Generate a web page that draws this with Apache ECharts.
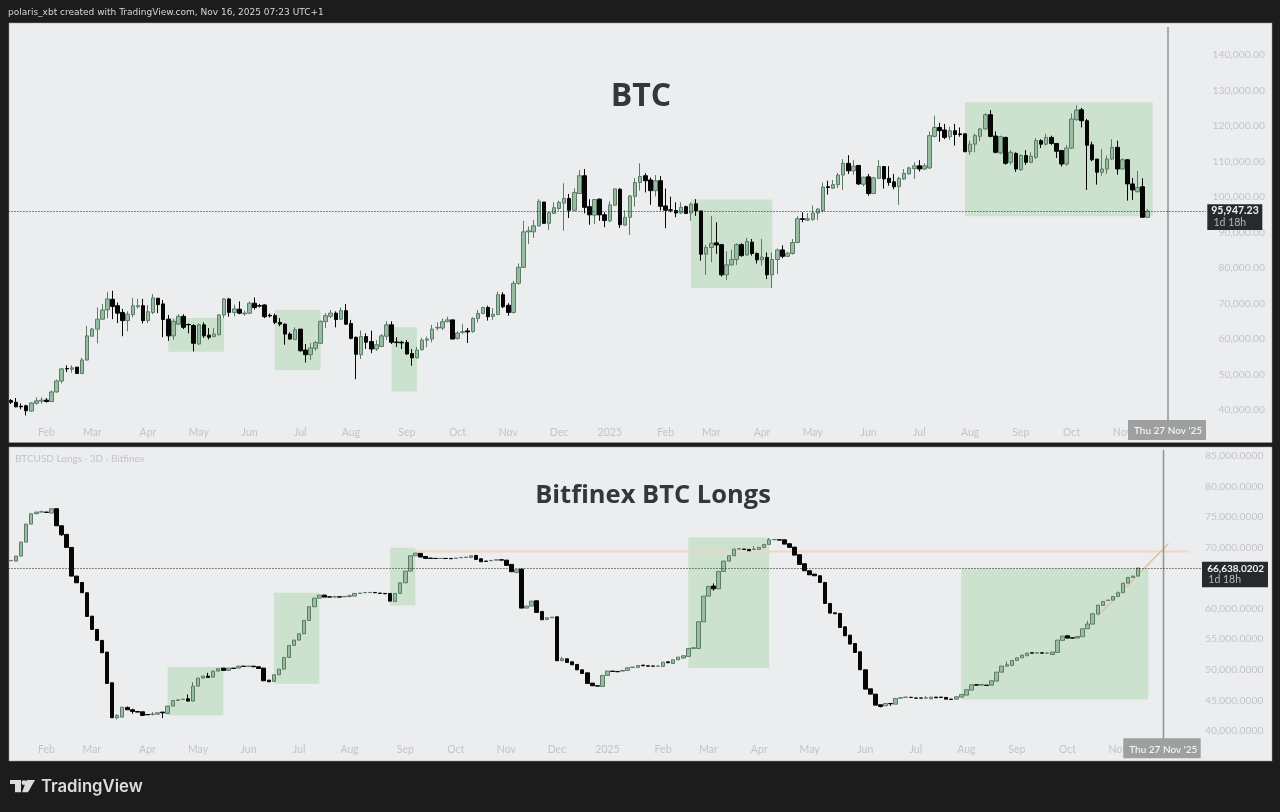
<!DOCTYPE html>
<html><head><meta charset="utf-8"><title>BTC vs Bitfinex BTC Longs</title>
<style>html,body{margin:0;padding:0;background:#1c1c1c}#c{width:1280px;height:812px}</style>
<script src="https://cdn.jsdelivr.net/npm/echarts@6/dist/echarts.min.js"></script></head>
<body><div id="c"></div>
<script>
// ---------- tick labels ----------
const monthTickIndex=[7,16,27,37,47,57,67,78,88,98,108,118,129,138,148,158,169,179,189,199,209,219];
const monthTickLabels=['Feb','Mar','Apr','May','Jun','Jul','Aug','Sep','Oct','Nov','Dec','2025','Feb','Mar','Apr','May','Jun','Jul','Aug','Sep','Oct','Nov'];
// ---------- BTC, 3-day candles ----------
const btcOpen=[42600,42100,41000,41100,39600,41800,42400,42700,42300,45000,
48100,51600,51400,52000,50200,54000,60700,62700,65500,68100,
71100,69300,67400,65100,66800,69000,69300,65100,67400,71400,
69800,65500,60800,64100,66300,64000,63700,58500,63900,61000,
60600,61100,66700,71200,67400,68300,67000,67200,70000,69300,
69500,66600,66500,64600,64100,61300,59800,62700,56800,55500,
57300,58700,64800,66300,67200,65500,67900,64300,60400,55500,
60600,59200,57100,57800,60700,63900,59100,59000,58900,55800,
54600,56900,59600,59900,63000,63000,64800,65300,60100,61800,
62200,62000,65700,67100,68800,66300,66800,72400,69400,67400,
75600,80100,90100,90100,91800,98500,92500,95300,96700,98200,
99500,96200,100900,105900,97200,94800,99300,94900,93200,97600,
102100,92000,94200,100100,104000,105900,104700,101700,104500,97400,
96300,96100,95400,97200,95400,98000,96000,83800,85700,87000,
86500,78000,80800,82300,86500,83600,87200,84000,82200,82900,
78000,82300,85000,83200,84000,87100,93800,93400,93600,95400,
96100,102800,102400,103400,106100,109400,107300,108800,103500,105600,
100900,105200,108500,105200,104200,102800,105000,106400,107900,108700,
107800,108100,117000,119500,118800,116900,118600,117700,117700,112700,
114800,117000,119100,123100,117100,112300,116700,109700,112200,107600,
111600,109700,111100,115800,114800,116700,115000,113000,109200,113700,
121700,124500,121400,114600,110600,106900,107800,110600,113900,107800,
110400,103600,101400,102800,94200];
const btcClose=[42100,40800,40800,39700,41900,42500,42700,42300,45000,48100,
51500,51500,51800,50200,54000,60800,62700,65500,68100,71200,
69100,67200,65100,66900,69300,69300,65100,67600,71500,69600,
65400,60800,64900,66300,63200,63900,58700,63900,60800,60400,
61300,66700,71200,67400,68400,67200,67200,70000,68800,69200,
66200,66400,64600,64100,61300,59900,62500,56600,55500,57400,
58900,64900,66500,67200,65400,67900,64100,60100,55600,60600,
59000,57100,58300,60800,63900,59000,58900,58800,55700,54600,
56800,59600,59900,62700,63200,64800,65300,59900,61600,62000,
61900,65700,67100,68800,66200,66900,72400,69000,67400,75600,
80100,90100,90400,91800,98700,92500,95500,96900,98400,99500,
96200,101200,105900,97000,94900,99200,94900,93300,97700,102200,
92100,94200,100200,104000,105700,104500,101700,104500,97300,96200,
96200,95400,97000,95300,97900,96000,83800,85700,86900,86400,
78000,80800,82300,86500,83400,87400,84000,82200,83000,78000,
82300,85000,83200,84100,87100,93800,93600,93800,95400,96500,
102700,102600,103400,106100,109400,107300,108600,103600,105500,100900,
105300,108500,105000,104000,102800,105200,106600,108100,108700,107800,
108700,117200,119500,118600,116700,118600,117500,117500,112700,114800,
117200,119100,123100,117000,112500,116900,109400,112500,107800,111600,
109700,111400,115800,114800,116700,115000,112800,109200,113700,121900,
124400,121400,114500,110400,106900,107800,110600,113900,107800,110400,
103600,101900,102600,94200,95947];
const btcLow=[41600,40700,40100,38400,39400,41400,41700,42000,42200,44800,
47400,50600,50400,50200,50000,53800,60600,58700,65400,65800,
65500,64400,60700,62100,66000,68500,64300,64400,66900,67200,
60400,59400,59600,63900,62700,61500,56400,58300,60200,59800,
60400,61000,65800,66200,66300,66900,66500,66900,68200,68800,
65800,66000,64100,63500,58300,59700,59600,56400,53300,54000,
56600,58500,63000,65800,63200,65300,63900,59800,48600,54300,
57100,55900,56600,57600,59600,58500,57700,57100,55500,52400,
54400,56700,57600,59000,62300,62400,64600,59900,59700,61300,
58800,61700,64600,66900,65100,65300,66700,68600,66500,67100,
75200,79900,86700,88400,91600,92300,90600,95100,96100,90400,
94000,95900,100800,95300,92100,92300,93200,91400,92800,97400,
91200,91800,89200,97200,101700,101200,97700,100100,96100,91100,
95600,94200,95100,95100,93200,94600,82000,78000,81500,83900,
77500,76500,80600,80800,83100,83400,83400,81200,80600,76800,
74300,78200,82700,83000,83700,86900,92800,93100,93200,93400,
95600,100600,102200,102400,101900,106400,106200,103300,102900,100300,
100800,105000,102300,103100,102100,97700,104700,106200,105000,107100,
107500,107800,116700,115500,116200,116000,114400,116900,112500,111800,
112500,115600,118800,116700,112200,112000,109000,109000,107000,107300,
109000,109400,110600,113700,114400,114600,110900,108500,108700,113400,
121400,119500,101900,110000,103400,105900,106400,110300,106200,107600,
98900,99100,101200,94000,94000];
const btcHigh=[43000,43300,41800,41400,42100,43500,43500,43300,45400,48500,
51700,52500,52500,52000,54600,63600,63000,68800,69800,73200,
73500,70200,68400,67700,71500,71200,71200,69500,72600,71400,
70900,66700,65500,66900,66900,64300,64100,64300,64600,63000,
63000,66900,71400,71500,69600,70500,67900,70500,71600,69800,
69700,67100,67100,65800,64300,61800,63200,62700,58500,58800,
59400,65100,67200,68100,67700,68800,69800,65300,60600,62300,
61500,62300,59600,61300,64900,64900,60400,59400,59600,57100,
57700,60200,60600,63900,64600,65700,66200,65300,62100,64100,
63000,66000,68100,69000,69300,68600,73300,73100,70000,76300,
81200,93200,91600,93400,99300,98500,95800,98400,98900,103800,
100800,102400,107500,107800,99300,99300,99500,95600,98700,102300,
102400,96200,100500,105300,109400,106600,105400,106100,105800,102300,
100000,98400,98400,97500,98400,99300,96000,86400,94600,92800,
86700,84600,85100,86900,86900,88400,88100,84300,88100,84300,
84300,85400,86300,84500,88100,94500,95600,95400,97500,96800,
104000,104500,104700,106700,110600,111700,110300,108800,105600,106400,
105600,110300,108500,108600,106400,105600,107800,108500,109700,110300,
109400,118400,122800,120800,120500,119700,120500,119500,117900,115800,
117800,119300,123500,124400,118400,117200,116900,113100,112500,112000,
113100,112500,116500,116200,117700,117200,115100,113100,114600,123500,
125800,125000,121900,115500,110600,113400,111600,116200,115800,110900,
110600,105300,107300,105200,96500];
// ---------- Bitfinex BTC longs, 3-day candles ----------
const longsOpen=[67830,67770,68590,70880,73830,75520,75790,75790,75630,76340,
73550,72140,70010,65320,64270,62590,58760,56590,54790,52880,
47860,42130,42240,43820,43440,43160,43110,42670,42670,42730,
43060,42840,44040,44960,45130,45240,44860,47310,48620,48950,
48780,49770,50260,49880,50260,50260,50580,50550,50580,50480,
50260,48290,48080,49170,50090,52000,53970,54840,55880,58060,
60300,61710,62210,61930,61900,61930,61930,61990,62040,62480,
62590,62620,62640,62530,62480,62480,61170,62480,64220,66130,
68640,69030,68530,68260,68210,68190,68210,68210,68210,68320,
68370,68370,68700,68150,67770,67830,67930,67990,67930,67230,
65920,66460,60080,60410,61280,59530,58220,58500,58660,51460,
51780,51290,50860,49980,49490,47800,47370,47260,49060,49770,
49710,49770,49880,50370,50370,50750,50640,50600,50580,50530,
51290,51020,51620,51890,52170,53480,53480,57840,62040,63680,
63240,66080,67770,68640,69740,69740,69680,69680,69680,70010,
70500,71260,71260,71260,70610,70060,68810,67340,66190,65640,
65370,64280,60840,59310,59200,57020,55660,54290,52930,49980,
46870,46000,44260,44090,44470,44360,45350,45460,45480,45370,
45370,45350,45240,45510,45510,45460,45180,45180,45510,45840,
46660,47530,47470,47470,47470,48130,49600,50580,50690,51510,
51950,52280,52770,52710,52770,52710,52490,52820,54790,55550,
55220,55170,55390,56700,57460,59100,60520,61330,61390,61990,
62590,64170,65100,65320];
const longsClose=[67880,68590,70880,73830,75520,75790,75850,75740,76340,73550,
72080,70010,65320,64220,62590,58710,56590,54790,52770,47750,
42130,42510,43870,43440,43160,43060,42510,42620,42730,42950,
42950,44040,44960,45070,45180,44860,47310,48620,48950,48730,
49770,50150,49880,50260,50200,50580,50530,50580,50480,50200,
48180,48020,49170,50090,52000,53970,54840,55880,58060,60300,
61710,62210,61880,61880,61930,61880,61990,62100,62480,62530,
62640,62640,62590,62480,62420,61220,62480,64220,66130,68640,
69080,68430,68210,68210,68190,68210,68190,68150,68260,68370,
68430,68640,68040,67660,67720,67880,67990,67930,67060,66030,
66350,60080,60410,61220,59370,58170,58500,58600,51460,51780,
51180,50800,49980,49380,47750,47370,47310,49060,49770,49710,
49660,49880,50310,50420,50690,50640,50580,50580,50600,51240,
51130,51620,52060,52280,53480,53590,57840,62040,63620,63240,
66080,67770,68640,69740,69790,69680,69460,69740,70010,70500,
71260,71320,71210,70550,70010,68750,67230,66190,65530,65370,
64280,60840,59260,59150,56910,55550,54190,52820,49980,46820,
46000,44200,43980,44470,44420,45290,45400,45510,45460,45350,
45350,45400,45510,45400,45460,45180,45130,45570,45950,46710,
47530,47470,47580,47420,48180,49600,50580,50800,51510,51950,
52390,52710,52710,52770,52710,52730,52880,54840,55500,55170,
55170,55440,56700,57460,59150,60570,61170,61390,61990,62590,
64170,65100,65320,66638];
// the few visible wicks of the longs candles: [candle number, value]
const longsUpperWicks=[[6,76010],[21,42730],[23,43980],[24,43600],[28,43060],[35,45950],[36,47970],[39,49490],[64,62100],[67,62310],[109,52110],[139,64120],[147,70230],[150,71540],[181,45670],[197,51350],[213,58000],[219,62810]];
const longsLowerWicks=[[10,71860],[21,41860],[24,42780],[28,42510],[30,42070],[67,61820],[100,65750],[139,62920],[172,43820],[174,44090]];
// ---------- drawn annotations: candle numbers and prices ----------
const btcBoxes=[[31.2,42,65800,56300],[52.2,60.9,68100,51200],[75.2,79.9,63200,45100],[134.2,150.1,99200,74300],[188.3,224.9,126600,94500]];
const longsBoxes=[[31.1,41.9,50420,42510],[52.1,61.1,62590,47690],[75.2,80.05,69950,60510],[134.1,149.95,71640,50260],[188.3,224.9,66570,45130]];
const btcLast=95947.23, longsLast=66638.0202;
const resistanceLine=[[79.5,69350],[233,69350]];
const trendLine=[[215,58800],[228.9,70650]];
const cursorIndex=228;

const FONT='Lato';
const LABEL='#c2c4c6';
function fmt(v,d){return v.toLocaleString('en-US',{minimumFractionDigits:d,maximumFractionDigits:d});}
function dates(n){const out=[];const t0=Date.UTC(2024,0,13);for(let i=0;i<n;i++)out.push(new Date(t0+i*3*864e5).toISOString().slice(0,10));return out;}
const topCats=dates(236), botCats=dates(237);
const labelByDate={};monthTickIndex.forEach((ix,k)=>{labelByDate[topCats[ix]]=monthTickLabels[k];});

function xAxis(gridIndex,cats,margin){return {type:'category',gridIndex,data:cats,boundaryGap:true,axisLine:{show:false},axisTick:{show:false},splitLine:{show:false},
  axisLabel:{inside:true,margin,color:LABEL,fontFamily:FONT,fontSize:10.5,hideOverlap:false,
    interval:(i)=>monthTickIndex.includes(i),formatter:(v)=>labelByDate[v]||''}};}
function yAxis(gridIndex,min,max,interval,dec,margin){return {type:'value',gridIndex,position:'right',min,max,interval,scale:true,axisLine:{show:false},axisTick:{show:false},splitLine:{show:false},
  axisLabel:{showMinLabel:false,showMaxLabel:false,color:LABEL,fontFamily:FONT,fontSize:10.3,align:'right',margin,formatter:(v)=>fmt(v,dec)}};}
const candleStyle={color:'#96bca2',color0:'#060606',borderColor:'#5c7b67',borderColor0:'#060606',borderColorDoji:'#222',borderWidth:1};
function boxes(list){return {silent:true,itemStyle:{color:'rgba(120,195,120,0.27)'},data:list.map(b=>[{coord:[b[0],b[2]]},{coord:[b[1],b[3]]}])};}
function dotted(v){return {silent:true,symbol:'none',label:{show:false},lineStyle:{type:[1,2],color:'#1a1a1a',width:1},data:[{yAxis:v}]};}

const longsData=longsOpen.map((o,i)=>{
  const c=longsClose[i];
  const up=longsUpperWicks.find(w=>w[0]===i), lo=longsLowerWicks.find(w=>w[0]===i);
  return [o,c,lo?lo[1]:Math.min(o,c),up?up[1]:Math.max(o,c)];
});
const btcData=btcOpen.map((o,i)=>[o,btcClose[i],btcLow[i],btcHigh[i]]);

function tag(x,y,w,h,fill){return {type:'rect',shape:{x,y,width:w,height:h},style:{fill},z:50};}
function txt(x,y,text,fill,size,weight,align,family){return {type:'text',x,y,style:{text,fill,fontSize:size,fontWeight:weight||'normal',fontFamily:family||FONT,textAlign:align||'left',textVerticalAlign:'middle'},z:51};}
function poly(points,fill){return {type:'polygon',shape:{points},style:{fill},z:51};}

const option={animation:false,backgroundColor:'#1c1c1c',
  grid:[{left:8.463,top:19.2,width:1197.6,height:426},{left:8.47,top:425.25,width:1198,height:336.1}],
  xAxis:[xAxis(0,topCats,7),xAxis(1,botCats,6.5)],
  yAxis:[yAxis(0,30000,150000,10000,2,59),yAxis(1,35000,90000,5000,4,57)],
  title:[
    {text:'BTC',left:636,top:76,textAlign:'center',textStyle:{color:'#33363b',fontFamily:'Open Sans',fontWeight:'bold',fontSize:32}},
    {text:'Bitfinex BTC Longs',left:648,top:478,textAlign:'center',textStyle:{color:'#33363b',fontFamily:'Open Sans',fontWeight:'bold',fontSize:25.5}}
  ],
  series:[
    {name:'BTC boxes',type:'line',xAxisIndex:0,yAxisIndex:0,data:[],z:1,markArea:boxes(btcBoxes)},
    {name:'BTC',type:'candlestick',xAxisIndex:0,yAxisIndex:0,data:btcData,barWidth:4,itemStyle:candleStyle,z:3,markLine:dotted(btcLast)},
    {name:'BTC cursor',type:'line',xAxisIndex:0,yAxisIndex:0,data:[[cursorIndex,147800],[cursorIndex,37000]],symbol:'none',z:4,lineStyle:{color:'#909294',width:1.5}},
    {name:'Longs boxes',type:'line',xAxisIndex:1,yAxisIndex:1,data:[],z:1,markArea:boxes(longsBoxes)},
    {name:'Resistance',type:'line',xAxisIndex:1,yAxisIndex:1,data:resistanceLine,symbol:'none',z:2,lineStyle:{color:'#f0d6c4',width:2}},
    {name:'Trend',type:'line',xAxisIndex:1,yAxisIndex:1,data:trendLine,symbol:'none',z:2,lineStyle:{color:'#e2bc94',width:1.2}},
    {name:'Longs',type:'candlestick',xAxisIndex:1,yAxisIndex:1,data:longsData,barWidth:4,itemStyle:candleStyle,z:3,markLine:dotted(longsLast)},
    {name:'Longs cursor',type:'line',xAxisIndex:1,yAxisIndex:1,data:[[cursorIndex,86000],[cursorIndex,38700]],symbol:'none',z:4,lineStyle:{color:'#909294',width:1.5}}
  ],
  graphic:[
    {type:'rect',shape:{x:9,y:23,width:1263,height:419.5},style:{fill:'#ecedef',stroke:'#9c9c9c',lineWidth:0.5},z:-10},
    {type:'rect',shape:{x:9,y:447,width:1263,height:314},style:{fill:'#ecedef',stroke:'#9c9c9c',lineWidth:0.5},z:-10},
    txt(8,12.5,'polaris_xbt created with TradingView.com, Nov 16, 2025 07:23 UTC+1','#d6d6d6',9,'normal','left','DejaVu Sans'),
    txt(15,459,'BTCUSD Longs · 3D · Bitfinex','#c2c4c6',10,'normal'),
    tag(1207.3,204.3,55,25.7,'#252a2e'),
    txt(1235,211,'95,947.23','#f2f2f2',10.5,'bold','center'),
    txt(1213.5,223,'1d 18h','#b4b8ba',10.5,'normal','left'),
    tag(1202,561.7,66,25.6,'#252a2e'),
    txt(1235.7,568.3,'66,638.0202','#f2f2f2',10,'bold','center'),
    txt(1208.3,580,'1d 18h','#b4b8ba',10.5,'normal','left'),
    tag(1128,420,78,20,'#9d9fa1'),
    txt(1168,431,"Thu 27 Nov '25",'#f6f6f6',10,500,'center'),
    tag(1123.3,738.3,77.4,20,'#9d9fa1'),
    txt(1163.3,749.5,"Thu 27 Nov '25",'#f6f6f6',10,500,'center'),
    poly([[10,780],[21,780],[21,792.3],[15,792.3],[15,784],[10,784]],'#dcdcdc'),
    {type:'circle',shape:{cx:24,cy:782.7,r:2.4},style:{fill:'#dcdcdc'},z:51},
    poly([[26.7,780],[35,780],[28,792.3],[22,792.3]],'#dcdcdc'),
    txt(41,787,'TradingView','#dcdcdc',16.7,600,'left','Inter')
  ]
};
const chart=echarts.init(document.getElementById('c'),null,{renderer:'canvas',width:1280,height:812});
chart.setOption(option);
</script></body></html>
